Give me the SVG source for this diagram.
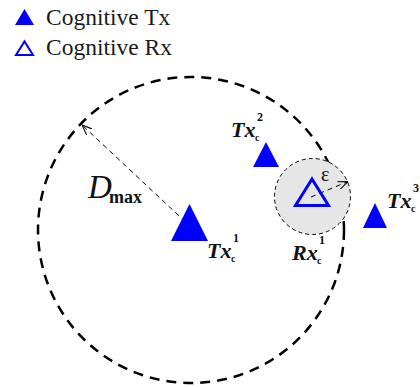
<svg xmlns="http://www.w3.org/2000/svg" width="420" height="387" viewBox="0 0 420 387">
<defs>
<style>
.serif{font-family:'Liberation Serif',Tinos,'Times New Roman',Times,'Nimbus Roman','Noto Serif','DejaVu Serif',FreeSerif,serif}
.tx{fill:#0000ff;stroke:none}
.rx{fill:none;stroke:#0000ff;stroke-width:3;stroke-linejoin:miter}
.leg{font-size:23.5px;fill:#1a1a1a}
.lbl{font-style:italic;font-weight:bold;font-size:22px;fill:#111}
.sub{font-weight:bold;font-size:10px;fill:#111}
.sup{font-weight:bold;font-size:12px;fill:#111}
.thin{fill:none;stroke:#000;stroke-width:1;stroke-dasharray:5 4}
</style>
<marker id="open" viewBox="0 0 10 10" refX="10" refY="5" markerWidth="10" markerHeight="10" markerUnits="userSpaceOnUse" orient="auto">
<path d="M0,1 L10,5 L0,9" fill="none" stroke="#000" stroke-width="1"/>
</marker>
</defs>
<rect width="420" height="387" fill="#fff"/>
<g id="legend">
<polygon class="tx" points="15,25 34,25 24.5,9"/>
<text class="serif leg" x="46" y="25">Cognitive Tx</text>
<polygon points="16,55 33,55 24.5,41.5" fill="none" stroke="#0000ff" stroke-width="2"/>
<text class="serif leg" x="46" y="55">Cognitive Rx</text>
</g>
<g id="range">
<circle cx="191" cy="230" r="153" fill="none" stroke="#000" stroke-width="2.5" stroke-dasharray="10 7"/>
</g>
<g id="rx-zone">
<circle cx="312.5" cy="196.5" r="38" fill="#e6e6e6" stroke="#000" stroke-width="1" stroke-dasharray="4 3"/>
</g>
<g id="connectors">
<line class="thin" x1="192" y1="228" x2="82" y2="125" marker-end="url(#open)"/>
<line class="thin" x1="311" y1="197" x2="348" y2="181.5" marker-end="url(#open)"/>
</g>
<g id="dmax-label">
<text class="serif" x="88" y="198" font-style="italic" font-size="33" fill="#111">D</text>
<text class="serif" x="109" y="203" font-weight="bold" font-size="18" fill="#111">max</text>
</g>
<g id="eps-label">
<text class="serif" x="321" y="181" font-size="20" fill="#111">ε</text>
</g>
<g id="tx1">
<polygon class="tx" points="171,241 208,241 189.5,204"/>
<text class="serif lbl" x="207" y="258">Tx</text>
<text class="serif sub" x="231" y="262">c</text>
<text class="serif sup" x="233" y="242">1</text>
</g>
<g id="tx2">
<polygon class="tx" points="253,167 279,167 266,142"/>
<text class="serif lbl" x="231" y="137">Tx</text>
<text class="serif sub" x="255" y="141">c</text>
<text class="serif sup" x="257" y="121">2</text>
</g>
<g id="tx3">
<polygon class="tx" points="363,228 387,228 375,203"/>
<text class="serif lbl" x="387" y="208">Tx</text>
<text class="serif sub" x="411" y="212">c</text>
<text class="serif sup" x="413" y="192">3</text>
</g>
<g id="rx1">
<polygon class="rx" points="295.5,205.5 328.5,205.5 312,179"/>
<text class="serif lbl" x="292" y="260">Rx</text>
<text class="serif sub" x="317" y="264">c</text>
<text class="serif sup" x="319" y="244">1</text>
</g>
</svg>
